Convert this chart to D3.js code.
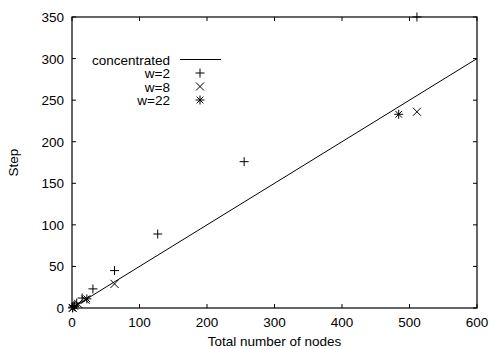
<!DOCTYPE html>
<html><head><meta charset="utf-8">
<script src="https://cdn.jsdelivr.net/npm/d3@7/dist/d3.min.js"></script>
<style>body{margin:0;background:#fff}svg{display:block}text{font-family:"Liberation Sans",Arial,sans-serif;font-size:13.5px;fill:#000}</style>
</head><body>
<script>
const xTicks = [0,100,200,300,400,500,600];
const yTicks = [0,50,100,150,200,250,300,350];
const lineConcentrated = [[0,0],[600,300]];
const w2 = [[1,1],[3,3],[7,6],[15,12],[31,23],[63,45],[127,89],[255,176],[511,350]];
const w8 = [[1,0],[9,5],[20,10],[63,29],[511,236]];
const w22 = [[1,0],[4,2],[22,11],[484,233]];
const legendLabels = ["concentrated","w=2","w=8","w=22"];

const W=490,H=349, L=72,R=477,T=17,B=308;
const svg=d3.select("body").append("svg").attr("width",W).attr("height",H);
const x=d3.scaleLinear().domain([0,600]).range([L,R]);
const y=d3.scaleLinear().domain([0,350]).range([B,T]);
const tl=4, col="#000";

const g=svg.append("g").attr("stroke",col).attr("stroke-width",1);
xTicks.forEach(v=>{
  g.append("line").attr("x1",x(v)).attr("x2",x(v)).attr("y1",B).attr("y2",B-tl);
  g.append("line").attr("x1",x(v)).attr("x2",x(v)).attr("y1",T).attr("y2",T+tl);
});
yTicks.forEach(v=>{
  g.append("line").attr("x1",L).attr("x2",L+tl).attr("y1",y(v)).attr("y2",y(v));
  g.append("line").attr("x1",R).attr("x2",R-tl).attr("y1",y(v)).attr("y2",y(v));
});
svg.append("rect").attr("x",L).attr("y",T).attr("width",R-L).attr("height",B-T)
  .attr("fill","none").attr("stroke",col).attr("stroke-width",1.2);

xTicks.forEach(v=>svg.append("text").attr("x",x(v)).attr("y",B+19).attr("text-anchor","middle").text(v));
yTicks.forEach(v=>svg.append("text").attr("x",L-8).attr("y",y(v)+5).attr("text-anchor","end").text(v));

svg.append("text").attr("x",(L+R)/2).attr("y",346).attr("text-anchor","middle").text("Total number of nodes");
svg.append("text").attr("transform",`translate(18,${(T+B)/2}) rotate(-90)`).attr("text-anchor","middle").text("Step");

const line=d3.line().x(d=>x(d[0])).y(d=>y(d[1]));
const plot=svg.append("g");
plot.append("path").attr("d",line(lineConcentrated)).attr("fill","none").attr("stroke",col).attr("stroke-width",1);

const s=4.5;
function plus(gg,cx,cy){gg.append("path").attr("d",`M${cx-s},${cy}H${cx+s}M${cx},${cy-s}V${cy+s}`).attr("stroke",col).attr("fill","none");}
function cross(gg,cx,cy){const k=s*0.9;gg.append("path").attr("d",`M${cx-k},${cy-k}L${cx+k},${cy+k}M${cx-k},${cy+k}L${cx+k},${cy-k}`).attr("stroke",col).attr("fill","none");}
function star(gg,cx,cy){const k=s*0.75;gg.append("path").attr("d",`M${cx-s},${cy}H${cx+s}M${cx},${cy-s}V${cy+s}M${cx-k},${cy-k}L${cx+k},${cy+k}M${cx-k},${cy+k}L${cx+k},${cy-k}`).attr("stroke",col).attr("fill","none");}

w2.forEach(d=>plus(plot,x(d[0]),y(d[1])));
w8.forEach(d=>cross(plot,x(d[0]),y(d[1])));
w22.forEach(d=>star(plot,x(d[0]),y(d[1])));

const lx=170, ly=[59.5,73,86.5,100], sx=200;
legendLabels.forEach((t,i)=>svg.append("text").attr("x",lx).attr("y",ly[i]+5).attr("text-anchor","end").text(t));
svg.append("line").attr("x1",180).attr("x2",221).attr("y1",ly[0]).attr("y2",ly[0]).attr("stroke",col);
plus(svg,sx,ly[1]); cross(svg,sx,ly[2]); star(svg,sx,ly[3]);
</script>
</body></html>
